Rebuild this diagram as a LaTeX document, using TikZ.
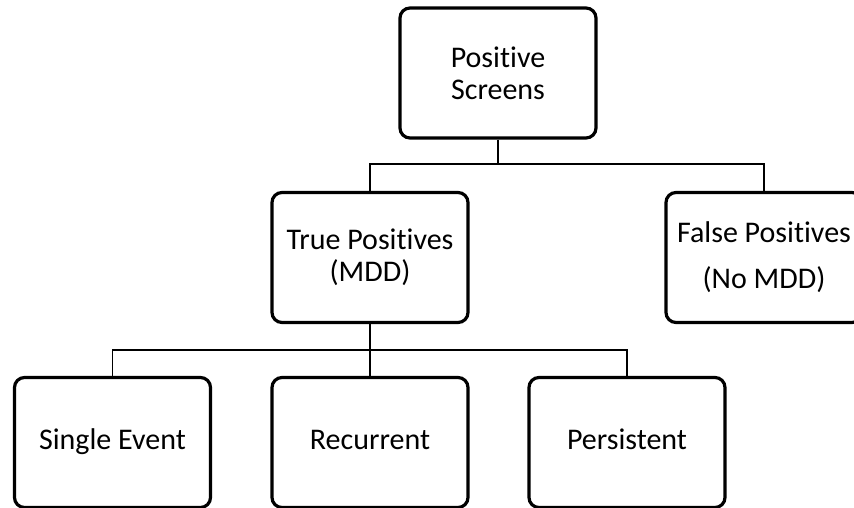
\documentclass[tikz,border=0pt]{standalone}
\usepackage{fontspec}
\setmainfont{Carlito}[Ligatures=CommonOff]
\usepackage{tikz}
\usetikzlibrary{calc}

\tikzset{
    stage/.style={draw, line width=3.2pt, rounded corners=10pt,
        minimum width=196pt, minimum height=130pt, align=center,
        inner sep=0pt, font=\fontsize{30}{32}\selectfont},
    leaf/.style={stage, text height=21pt, text depth=7pt},
    link/.style={line width=1.8pt}
}

\begin{document}
\begin{tikzpicture}[x=1pt, y=-1pt]
        \useasboundingbox (0, 0) rectangle (854, 507);
        \node[stage] (screens) at (498, 73) {Positive\\Screens};
        \node[stage] (truepos) at (370, 257.5) {True Positives\\(MDD)};
        \node[stage] (falsepos) at (764, 257.5) {False Positives\\[14pt](No MDD)};
        \node[leaf] (single) at (112.5, 442.5) {Single Event};
        \node[leaf] (recurrent) at (370, 442.5) {Recurrent};
        \node[leaf] (persistent) at (627, 442.5) {Persistent};
        \coordinate (split1) at (498, 164);
        \coordinate (split2) at (370, 350);
        \draw[link] (screens) -- (split1);
        \draw[link] (split1) -| (truepos);
        \draw[link] (split1) -| (falsepos);
        \draw[link] (truepos) -- (recurrent);
        \draw[link] (split2) -| (single);
        \draw[link] (split2) -| (persistent);
    \end{tikzpicture}
\end{document}
